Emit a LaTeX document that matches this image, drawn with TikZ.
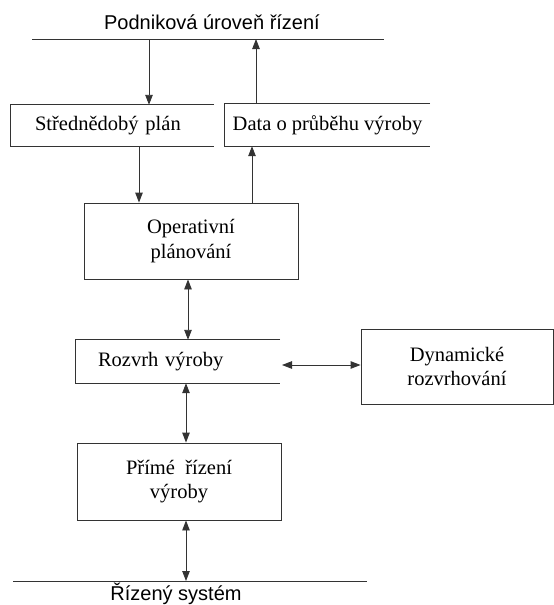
\documentclass[tikz,border=0pt]{standalone}
\usepackage{fontspec}
\setmainfont{Liberation Serif}
\setsansfont{Liberation Sans}
\usetikzlibrary{arrows.meta}
\begin{document}
\begin{tikzpicture}[x=1pt,y=-1pt,
  line/.style={draw=black!80, line width=0.9pt},
  tip/.style={-{Triangle[length=10pt,width=7.5pt]}},
  both/.style={{Triangle[length=10pt,width=7.5pt]}-{Triangle[length=10pt,width=7.5pt]}},
  boxtext/.style={font=\fontsize{20.5}{24.5}\selectfont, inner sep=0pt, align=center, rectangle},
  closedbox/.style={boxtext, draw=black!80, line width=0.9pt},
  openbox/.style={boxtext, align=left},
  level/.style={font=\sffamily\fontsize{20}{24}\selectfont, inner sep=0pt}]

\useasboundingbox (0,0) rectangle (554,605);

% upper control level
\node[level] (podnik) at (212,22) {Podniková úroveň řízení};
\coordinate (pl) at (32,39);
\coordinate (pr) at (384,39);
\draw[line] (pl) -- (pr);

% boxes open on their right side
\node[openbox, minimum height=41pt, text width=154.5pt, inner xsep=24.5pt] (stred) at (112.25,125.5) {Střednědobý plán};
\draw[line] (stred.north east) -- (stred.north west) -- (stred.south west) -- (stred.south east);

\node[boxtext, minimum width=205pt, minimum height=42pt] (data) at (327.5,125) {Data o průběhu výroby};
\draw[line] (data.north east) -- (data.north west) -- (data.south west) -- (data.south east);

\node[openbox, minimum height=43pt, text width=160pt, inner xsep=22pt] (rozvrh) at (178,361.5) {Rozvrh výroby};
\draw[line] (rozvrh.north east) -- (rozvrh.north west) -- (rozvrh.south west) -- (rozvrh.south east);

% closed boxes
\node[closedbox, minimum width=214pt, minimum height=76pt] (oper) at (191,241) {Operativní\\plánování};
\node[closedbox, minimum width=192pt, minimum height=75pt] (dyn) at (457,366.5) {Dynamické\\rozvrhování};
\node[closedbox, minimum width=204pt, minimum height=77pt] (prime) at (179,481.5) {Přímé~ řízení\\výroby};

% controlled system
\coordinate (bl) at (13,581);
\coordinate (br) at (367,581);
\draw[line] (bl) -- (br);
\node[level] (rizeny) at (176,594) {Řízený systém};

% connectors
\coordinate (a1) at (149,39);
\coordinate (a2) at (256,39);
\coordinate (c3) at (139,0);
\coordinate (c4) at (252,0);
\coordinate (c5) at (188,0);
\coordinate (c6) at (282,365);
\coordinate (c7) at (186,0);

\draw[line,tip] (a1) -- (a1 |- stred.north);
\draw[line,tip] (a2 |- data.north) -- (a2);
\draw[line,tip] (c3 |- stred.south) -- (c3 |- oper.north);
\draw[line,tip] (c4 |- oper.north) -- (c4 |- data.south);
\draw[line,both] (c5 |- oper.south) -- (c5 |- rozvrh.north);
\draw[line,both] (c6) -- (c6 -| dyn.west);
\draw[line,both] (c7 |- rozvrh.south) -- (c7 |- prime.north);
\draw[line,both] (c7 |- prime.south) -- (c7 |- bl);
\end{tikzpicture}
\end{document}
